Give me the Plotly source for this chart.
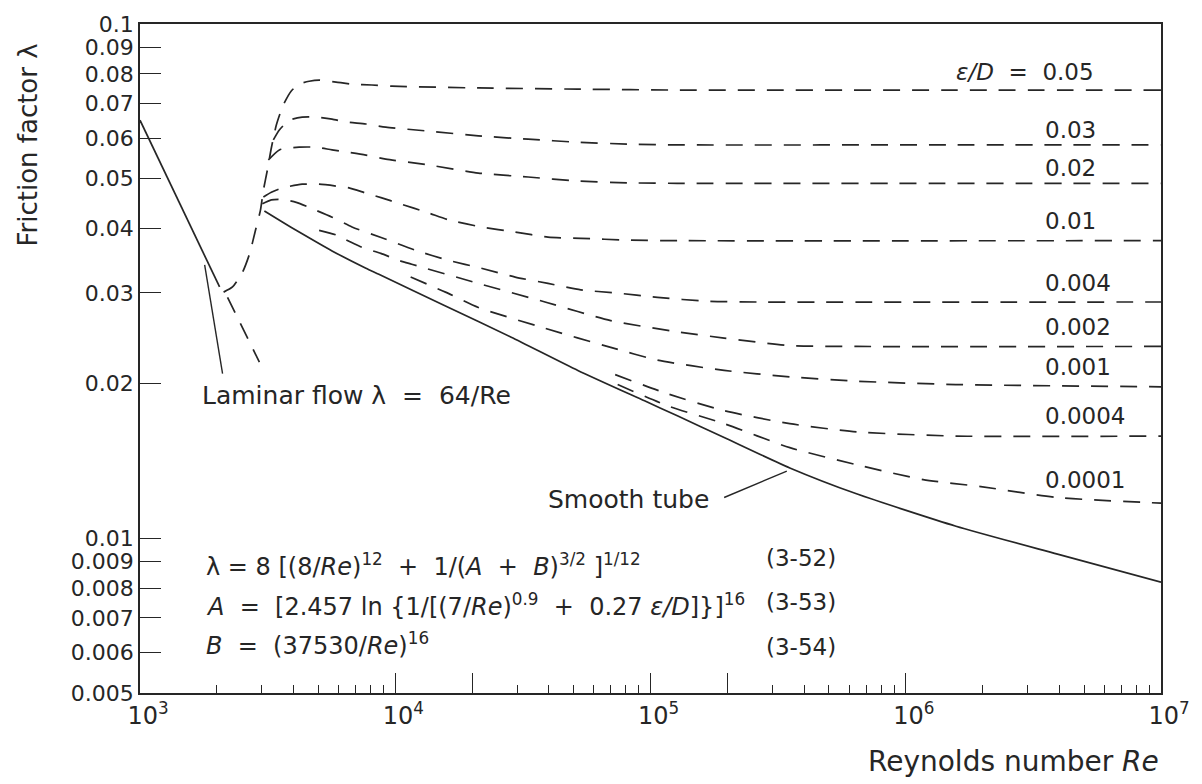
import plotly.graph_objects as go

# ---------------- data ----------------
# laminar flow (solid) and its dashed continuation
re_laminar = [1000, 2050]
f_laminar = [0.0650, 0.0308]
re_laminar_ext = [2203, 2936]
f_laminar_ext = [0.0294, 0.0220]

# smooth tube (solid)
re_smooth = [3071, 3611, 4203, 5655, 7674, 8625, 15730, 28470, 51930, 94760,
             127400, 194300, 351400, 641200, 1573000, 3931000, 10000000]
f_smooth = [0.0433, 0.0412, 0.0394, 0.0362, 0.0335, 0.0326, 0.0283, 0.0246, 0.0212, 0.0185,
            0.0173, 0.0157, 0.0137, 0.0122, 0.01055, 0.00931, 0.00821]

# rough tubes, eps/D curves (dashed)
re_eD_0_05 = [2126, 2304, 2521, 2685, 2834, 2963, 3044, 3155, 3270, 3421, 3643, 3914,
              4203, 4601, 5032, 5862, 6768, 8099, 9692, 21160, 51930, 127400, 1573000, 10000000]
f_eD_0_05 = [0.0301, 0.0308, 0.0329, 0.0357, 0.0397, 0.0434, 0.0475, 0.0520, 0.0574, 0.0636, 0.0696, 0.0741,
             0.0764, 0.0774, 0.0778, 0.0771, 0.0764, 0.0761, 0.0757, 0.0751, 0.0747, 0.0744, 0.0744, 0.0744]

re_eD_0_03 = [3330, 3515, 3845, 4320, 4943, 5655, 6412, 7674, 9183, 13510, 21160, 33160,
              51930, 81350, 127400, 1573000, 10000000]
f_eD_0_03 = [0.0595, 0.0622, 0.0650, 0.0659, 0.0659, 0.0653, 0.0645, 0.0639, 0.0630, 0.0619, 0.0606, 0.0597,
             0.0589, 0.0584, 0.0582, 0.0582, 0.0582]

re_eD_0_02 = [3184, 3515, 4203, 4899, 5655, 6412, 7674, 9183, 13510, 21160, 33160, 51930,
              81350, 127400, 10000000]
f_eD_0_02 = [0.0544, 0.0569, 0.0576, 0.0576, 0.0569, 0.0564, 0.0556, 0.0546, 0.0532, 0.0513, 0.0504, 0.0495,
             0.0491, 0.0490, 0.0490]

re_eD_0_01 = [3044, 3270, 3611, 4320, 5032, 5862, 6588, 7674, 8857, 10320, 13510, 16170,
              21740, 29500, 39670, 53350, 81350, 127400, 10000000]
f_eD_0_01 = [0.0461, 0.0471, 0.0480, 0.0488, 0.0488, 0.0484, 0.0480, 0.0469, 0.0459, 0.0448, 0.0429, 0.0416,
             0.0403, 0.0394, 0.0385, 0.0383, 0.0380, 0.0379, 0.0379]

re_eD_0_004 = [3016, 3270, 3578, 4094, 4899, 5655, 6768, 8857, 12020, 16170, 21740, 29500,
               39670, 53350, 72710, 106500, 166900, 261400, 10000000]
f_eD_0_004 = [0.0447, 0.0455, 0.0456, 0.0450, 0.0434, 0.0421, 0.0403, 0.0384, 0.0363, 0.0347, 0.0335, 0.0322,
              0.0313, 0.0304, 0.0300, 0.0294, 0.0289, 0.0288, 0.0288]

re_eD_0_002 = [5032, 5862, 6588, 7401, 8777, 10320, 11600, 21160, 38620, 69850, 127400, 194300,
               351400, 641200, 10000000]
f_eD_0_002 = [0.0397, 0.0389, 0.0378, 0.0368, 0.0358, 0.0347, 0.0341, 0.0313, 0.0288, 0.0265, 0.0252, 0.0245,
              0.0237, 0.0236, 0.0236]

re_eD_0_001 = [11490, 15730, 21160, 38620, 69850, 106500, 194300, 351400, 641200, 1573000, 10000000]
f_eD_0_001 = [0.0322, 0.0301, 0.0281, 0.0256, 0.0235, 0.0222, 0.0212, 0.0206, 0.0202, 0.0199, 0.0197]

re_eD_0_0004 = [72710, 116500, 194300, 351400, 641200, 1573000, 10000000]
f_eD_0_0004 = [0.0208, 0.0191, 0.0177, 0.0167, 0.0161, 0.0158, 0.0158]

re_eD_0_0001 = [74360, 116500, 194300, 351400, 641200, 1170000, 1969000, 3931000, 10000000]
f_eD_0_0001 = [0.0199, 0.0181, 0.0167, 0.0150, 0.0139, 0.0130, 0.0126, 0.0120, 0.0117]

# leader lines of the two text labels
re_lead_laminar = [1792, 2106]
f_lead_laminar = [0.0340, 0.0209]
re_lead_smooth = [194300, 342100]
f_lead_smooth = [0.0120, 0.0135]

# curve labels
eps_labels = ["0.03", "0.02", "0.01", "0.004", "0.002", "0.001", "0.0004", "0.0001"]

# axis ticks
y_tickvals = [0.1, 0.09, 0.08, 0.07, 0.06, 0.05, 0.04, 0.03, 0.02,
              0.01, 0.009, 0.008, 0.007, 0.006, 0.005]
y_ticktext = ["0.1", "0.09", "0.08", "0.07", "0.06", "0.05", "0.04", "0.03", "0.02",
              "0.01", "0.009", "0.008", "0.007", "0.006", "0.005"]
x_tickvals = [1e3, 1e4, 2e4, 1e5, 2e5, 1e6, 1e7]
x_ticktext = ["10<sup>3</sup>", "10<sup>4</sup>", "", "10<sup>5</sup>", "", "10<sup>6</sup>", "10<sup>7</sup>"]
x_minor = [m * 10 ** d for d in (3, 4, 5, 6) for m in range(2, 10)
           if not (m == 2 and d in (4, 5))]

# ---------------- figure ----------------
INK = "#262626"
FONT = "DejaVu Sans"
DASH = "17px,12px"
LW = 1.7

fig = go.Figure()

def add_line(x, y, dashed, width=LW):
    fig.add_trace(go.Scatter(
        x=x, y=y, mode="lines", showlegend=False, hoverinfo="skip",
        line=dict(color=INK, width=width, dash=DASH if dashed else "solid",
                  shape="spline", smoothing=0.6)))

add_line(re_laminar, f_laminar, False)
add_line(re_laminar_ext, f_laminar_ext, True)
add_line(re_smooth, f_smooth, False)
for xs, ys in [(re_eD_0_05, f_eD_0_05), (re_eD_0_03, f_eD_0_03), (re_eD_0_02, f_eD_0_02),
               (re_eD_0_01, f_eD_0_01), (re_eD_0_004, f_eD_0_004), (re_eD_0_002, f_eD_0_002),
               (re_eD_0_001, f_eD_0_001), (re_eD_0_0004, f_eD_0_0004), (re_eD_0_0001, f_eD_0_0001)]:
    add_line(xs, ys, True)
add_line(re_lead_laminar, f_lead_laminar, False, 1.4)
add_line(re_lead_smooth, f_lead_smooth, False, 1.4)

# pixel -> paper helpers for text placement (plot area 140..1166 x 24..693)
def px(x):
    return (x - 140) / 1026.0

def py(y):
    return (693 - y) / 669.0

ann = []

def text(t, x, y, xanchor="left", size=24, angle=0):
    ann.append(dict(text=t, x=px(x), y=py(y), xref="paper", yref="paper",
                    xanchor=xanchor, yanchor="middle", showarrow=False,
                    textangle=angle, font=dict(family=FONT, size=size, color=INK)))

NB = "\u00a0"
S2 = NB + NB
text("<i>ε/D</i>" + S2 + "=" + S2 + "0.05", 1101, 72, "right", 23)
for lab, yc in zip(eps_labels, [130, 168, 221, 283, 327, 367, 416, 480]):
    text(lab, 1047, yc, "left", 23)

text("Laminar flow λ" + S2 + "=" + S2 + "64/Re", 200, 395, "left", 25)
text("Smooth tube", 714, 499, "right", 25)

text("λ = 8 [(8/<i>Re</i>)<sup>12</sup>" + S2 + "+" + S2 + "1/(<i>A</i>" + S2 + "+" + S2 +
     "<i>B</i>)<sup>3/2</sup> ]<sup>1/12</sup>", 204, 565, "left", 24)
text("<i>A</i>" + S2 + "=" + S2 + "[2.457 ln {1/[(7/<i>Re</i>)<sup>0.9</sup>" + S2 + "+" + S2 +
     "0.27 <i>ε/D</i>]}]<sup>16</sup>", 204, 605, "left", 24)
text("<i>B</i>" + S2 + "=" + S2 + "(37530/<i>Re</i>)<sup>16</sup>", 204, 644, "left", 24)
text("(3-52)", 767, 558, "left", 23)
text("(3-53)", 767, 602, "left", 23)
text("(3-54)", 767, 647, "left", 23)

text("Friction factor λ", 27, 145, "center", 26, -90)
text("Reynolds number <i>Re</i>", 1166, 761, "right", 28)

fig.update_layout(
    width=1202, height=784,
    margin=dict(l=140, r=36, t=24, b=91),
    paper_bgcolor="white", plot_bgcolor="white",
    annotations=ann,
    xaxis=dict(type="log", range=[3, 7], showgrid=False, zeroline=False,
               showline=True, linecolor=INK, linewidth=1.6, mirror=True,
               ticks="inside", ticklen=20, tickwidth=1.4, tickcolor=INK,
               tickvals=x_tickvals, ticktext=x_ticktext,
               tickfont=dict(family=FONT, size=24, color=INK),
               ticklabelshift=8,
               minor=dict(ticks="inside", ticklen=8, tickwidth=1.3, tickcolor=INK,
                          tickvals=x_minor, showgrid=False)),
    yaxis=dict(type="log", range=[-2.30103, -1], showgrid=False, zeroline=False,
               showline=True, linecolor=INK, linewidth=1.6, mirror=True,
               ticks="inside", ticklen=21, tickwidth=1.4, tickcolor=INK,
               tickvals=y_tickvals, ticktext=y_ticktext,
               tickfont=dict(family=FONT, size=22, color=INK)),
)

fig.write_html("out.html")
